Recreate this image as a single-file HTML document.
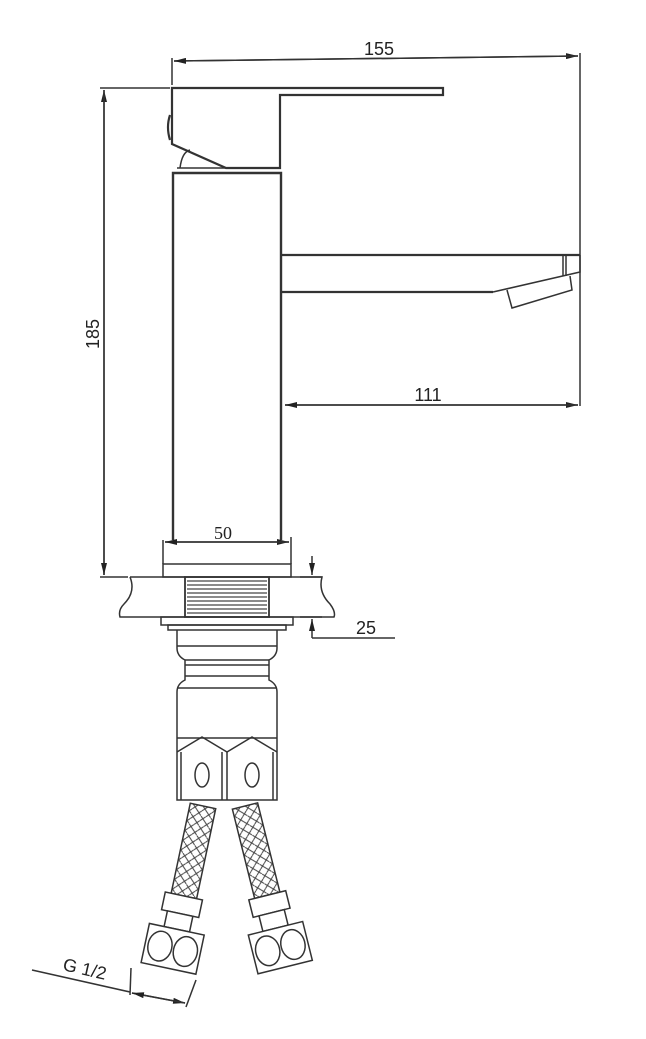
<!DOCTYPE html>
<html><head><meta charset="utf-8"><style>
html,body{margin:0;padding:0;background:#fff}
svg{display:block}
text{font-family:"Liberation Sans",sans-serif;fill:#222}
</style></head><body>
<svg width="646" height="1039" viewBox="0 0 646 1039" xmlns="http://www.w3.org/2000/svg">
<defs>
<marker id="ar" markerWidth="12" markerHeight="6" refX="12" refY="3" orient="auto" markerUnits="userSpaceOnUse"><path d="M0,0 L12,3 L0,6 Z" fill="#222"/></marker>
<pattern id="braid" width="10" height="10" patternUnits="userSpaceOnUse">
<path d="M0,5 L5,0 M5,10 L10,5 M0,0 L5,5 M5,5 L10,10" stroke="#444" stroke-width="1" fill="none"/>
</pattern>
</defs>
<g fill="none" stroke="#333" stroke-width="1.5">
<line x1="172" y1="85" x2="172" y2="58"/>
<line x1="580" y1="53" x2="580" y2="406"/>
<line x1="174" y1="61" x2="578" y2="56" marker-end="url(#ar)"/>
<line x1="578" y1="56" x2="174" y2="61" marker-end="url(#ar)"/>
<line x1="100" y1="88" x2="170" y2="88"/>
<line x1="100" y1="577" x2="128" y2="577"/>
<line x1="104" y1="575" x2="104" y2="90" marker-end="url(#ar)"/>
<line x1="104" y1="90" x2="104" y2="575" marker-end="url(#ar)"/>
<path d="M172,88 L443,88 L443,95 L280,95 L280,168 L226,168 L172,144 Z" stroke-width="2.2"/>
<path d="M170,115 Q166,127 170,140" stroke-width="2.2"/>
<path d="M180,168 Q182,152 190,150" />
<line x1="177" y1="168" x2="226" y2="168"/>
<path d="M173,540 L173,173 L281,173 L281,540" stroke-width="2.4"/>
<line x1="282" y1="255" x2="580" y2="255" stroke-width="2.2"/>
<line x1="282" y1="292" x2="493" y2="292" stroke-width="2.2"/>
<path d="M493,292 L580,272 L580,255"/>
<line x1="563" y1="255" x2="563" y2="276"/>
<line x1="566" y1="255" x2="566" y2="276"/>
<path d="M507,290 L512,308 L572,290 L570,276"/>
<line x1="285" y1="405" x2="578" y2="405" marker-end="url(#ar)"/>
<line x1="578" y1="405" x2="285" y2="405" marker-end="url(#ar)"/>
<line x1="163" y1="540" x2="163" y2="564"/>
<line x1="291" y1="537" x2="291" y2="564"/>
<line x1="165" y1="542" x2="289" y2="542" marker-end="url(#ar)"/>
<line x1="289" y1="542" x2="165" y2="542" marker-end="url(#ar)"/>
<rect x="163" y="564" width="128" height="13"/>
<path d="M130,577 L185,577 M269,577 L322,577 Q318,592 330,604 Q336,612 334,617 L269,617 M185,617 L120,617 Q118,610 124,604 Q136,592 130,577"/>
<rect x="185" y="577" width="84" height="40" stroke-width="1.8"/>
<g stroke="#444" stroke-width="1.3">
<line x1="187" y1="581" x2="267" y2="581"/><line x1="187" y1="585" x2="267" y2="585"/><line x1="187" y1="589" x2="267" y2="589"/><line x1="187" y1="593" x2="267" y2="593"/><line x1="187" y1="597" x2="267" y2="597"/><line x1="187" y1="601" x2="267" y2="601"/><line x1="187" y1="605" x2="267" y2="605"/><line x1="187" y1="609" x2="267" y2="609"/><line x1="187" y1="613" x2="267" y2="613"/>
</g>
<line x1="300" y1="577" x2="322" y2="577"/>
<line x1="300" y1="617" x2="322" y2="617"/>
<line x1="312" y1="556" x2="312" y2="575" marker-end="url(#ar)"/>
<line x1="312" y1="638" x2="312" y2="619" marker-end="url(#ar)"/>
<line x1="312" y1="638" x2="395" y2="638"/>
<rect x="161" y="617" width="132" height="8"/>
<rect x="168" y="625" width="118" height="5"/>
<path d="M177,630 L177,648 Q177,656 185,660 L185,680 Q177,684 177,692 L177,800 L277,800 L277,692 Q277,684 269,680 L269,660 Q277,656 277,648 L277,630"/>
<line x1="177" y1="646" x2="277" y2="646"/>
<line x1="185" y1="660" x2="269" y2="660"/>
<line x1="185" y1="665" x2="269" y2="665"/>
<line x1="185" y1="676" x2="269" y2="676"/>
<line x1="177" y1="688" x2="277" y2="688"/>
<line x1="177" y1="738" x2="277" y2="738"/>
<path d="M177,752 L202,737 L227,752 L252,737 L277,752"/>
<line x1="227" y1="752" x2="227" y2="800"/>
<line x1="222" y1="752" x2="222" y2="800"/>
<line x1="181" y1="752" x2="181" y2="800"/>
<line x1="273" y1="752" x2="273" y2="800"/>
<ellipse cx="202" cy="775" rx="7" ry="12"/>
<ellipse cx="252" cy="775" rx="7" ry="12"/>
<g transform="translate(203,806) rotate(12)">
<rect x="-13" y="0" width="26" height="92" fill="url(#braid)"/>
<rect x="-19" y="92" width="38" height="18" fill="#fff"/>
<rect x="-13" y="110" width="26" height="16" fill="#fff"/>
<rect x="-28" y="126" width="56" height="40" fill="#fff"/>
<ellipse cx="-13" cy="146" rx="12" ry="15"/><ellipse cx="13" cy="146" rx="12" ry="15"/>
</g>
<g transform="translate(245,806) rotate(-14)">
<rect x="-13" y="0" width="26" height="92" fill="url(#braid)"/>
<rect x="-19" y="92" width="38" height="18" fill="#fff"/>
<rect x="-13" y="110" width="26" height="16" fill="#fff"/>
<rect x="-28" y="126" width="56" height="40" fill="#fff"/>
<ellipse cx="-13" cy="146" rx="12" ry="15"/><ellipse cx="13" cy="146" rx="12" ry="15"/>
</g>
<line x1="32" y1="970" x2="130" y2="992"/>
<line x1="131" y1="968" x2="130" y2="995"/>
<line x1="196" y1="980" x2="186" y2="1007"/>
<line x1="132" y1="993" x2="185" y2="1003" marker-end="url(#ar)"/>
<line x1="185" y1="1003" x2="132" y2="993" marker-end="url(#ar)"/>
</g>
<text x="379" y="55" font-size="18" text-anchor="middle">155</text>
<text x="428" y="401" font-size="18" text-anchor="middle">111</text>
<text x="223" y="539" font-size="18" text-anchor="middle" style="font-family:'Liberation Serif',serif">50</text>
<text x="366" y="634" font-size="18" text-anchor="middle">25</text>
<text transform="translate(99,334) rotate(-90)" font-size="18" text-anchor="middle">185</text>
<text transform="translate(62,970) rotate(13)" font-size="18">G 1/2</text>
</svg>
</body></html>
